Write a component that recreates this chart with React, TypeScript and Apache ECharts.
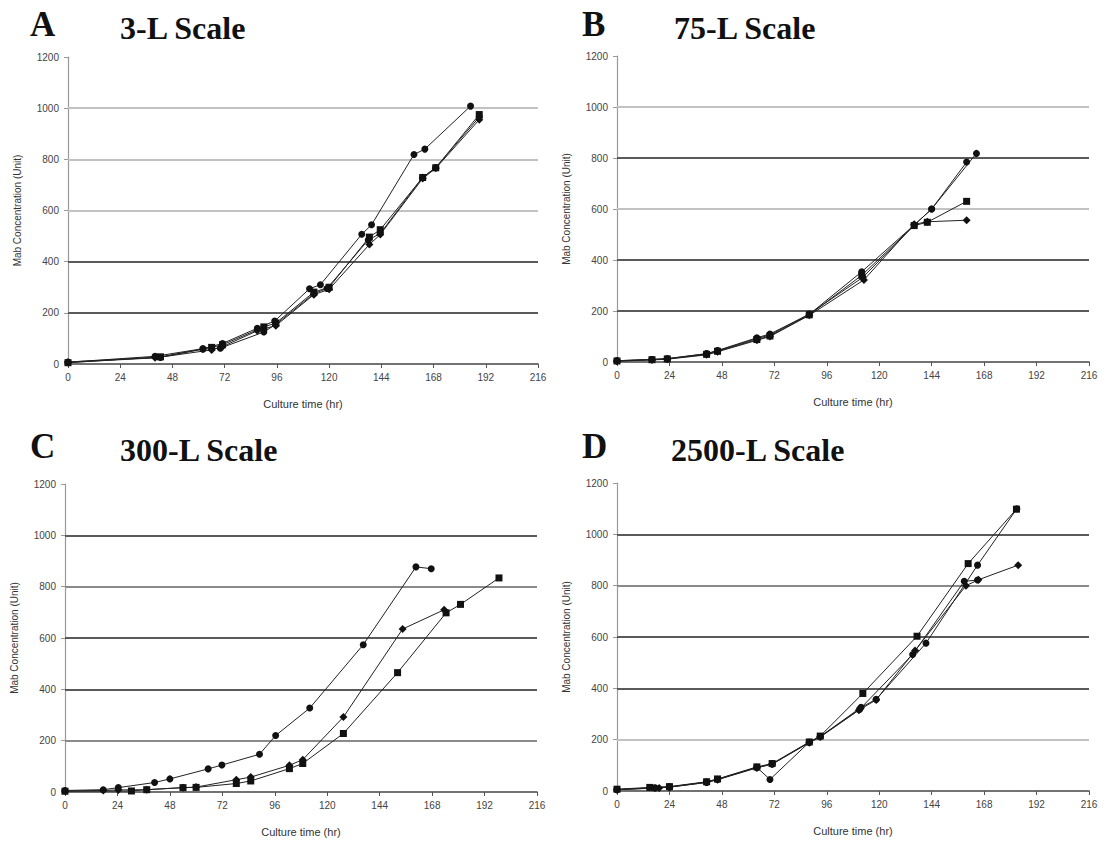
import React, { useEffect, useRef } from "react";
import * as echarts from "echarts";

// ---------- data: [culture time (hr), Mab concentration (Unit)] ----------
const a1: [number, number][] = [[0, 7], [40, 30], [62, 60], [71, 80], [87, 140], [95, 168], [111, 294], [116, 310], [135, 507], [139.5, 544], [159, 819], [164, 840], [185, 1008]];
const a2: [number, number][] = [[0, 5], [42.5, 28], [66, 65], [71, 75], [90, 145], [95.5, 160], [113, 281], [120, 300], [138.5, 496], [143.5, 525], [163, 729], [169, 767], [189, 975]];
const a3: [number, number][] = [[0, 6], [40, 24], [66, 55], [71, 68], [87, 130], [95.5, 150], [113, 271], [120, 292], [138.5, 467], [143.5, 506], [163, 725], [169, 765], [189, 955]];
const a4: [number, number][] = [[0, 8], [42.5, 26], [62, 58], [70, 62], [90, 125], [95.5, 155], [113, 275], [119, 295], [138, 485], [143.5, 510], [163, 730], [169, 768], [189, 965]];

const b1: [number, number][] = [[0, 5], [16, 10], [23, 13], [41, 33], [46, 45], [64, 95], [70, 110], [88, 187], [112, 354], [136, 537], [144, 600], [164.5, 818]];
const b2: [number, number][] = [[0, 4], [16, 9], [23, 12], [41, 30], [46, 42], [64, 88], [70, 102], [88, 185], [112, 340], [136, 535], [142, 548], [160, 630]];
const b3: [number, number][] = [[0, 3], [16, 8], [23, 11], [41, 28], [46, 40], [64, 85], [70, 100], [88, 183], [113, 322], [136, 540], [142, 550], [160, 556]];
const b4: [number, number][] = [[0, 5], [16, 10], [23, 13], [41, 32], [46, 44], [64, 92], [70, 106], [88, 188], [112.5, 332], [136, 537], [144, 600], [160, 784]];

const c1: [number, number][] = [[0, 6], [17.5, 9], [24.4, 17], [41, 37], [48, 51], [65.5, 90], [71.8, 105], [89, 147], [96.4, 220], [112, 327], [136.5, 574], [160.6, 877], [167.6, 870]];
const c2: [number, number][] = [[0, 4], [17.5, 6], [24.4, 8], [37.4, 9], [54, 17], [60, 19], [78.4, 48], [85, 58], [102.7, 104], [108.8, 126], [127.4, 292], [154.5, 635], [173.5, 710]];
const c3: [number, number][] = [[0, 3], [30.4, 4], [37.4, 9], [54, 17], [60, 18], [78.4, 33], [85, 43], [102.7, 91], [108.8, 111], [127.4, 228], [152.2, 465], [174.4, 698], [181, 731], [198.6, 834]];

const d1: [number, number][] = [[0, 7], [15, 14], [24, 17], [41, 36], [46, 47], [64, 94], [71, 107], [88, 191], [93, 214], [112.5, 380], [137.3, 603], [160.7, 886], [182.8, 1098]];
const d2: [number, number][] = [[0, 6], [17.4, 13], [24, 16], [41, 35], [46, 45], [64, 92], [70, 45], [88, 190], [93, 212], [111.7, 326], [118.6, 357], [141.4, 576], [165, 880], [183, 1100]];
const d3: [number, number][] = [[0, 5], [19.3, 12], [24, 15], [41, 34], [46, 44], [64, 90], [71, 105], [88, 188], [93, 210], [110.7, 315], [118.6, 355], [136.4, 547], [159.7, 800], [165.4, 823], [183.6, 880]];
const d4: [number, number][] = [[0, 5], [17.4, 12], [24, 15], [41, 33], [46, 45], [64, 92], [71, 104], [88, 190], [93, 212], [111, 318], [135.3, 532], [158.9, 817], [165, 822]];

const panelLetters = ["A", "B", "C", "D"];
const panelTitles = ["3-L Scale", "75-L Scale", "300-L Scale", "2500-L Scale"];
const gridLevels = [200, 400, 600, 800, 1000];
const yTickMax = 1200;
const xTickMax = 216;

const panelSeries = [[a1, a2, a3, a4], [b1, b2, b3, b4], [c1, c2, c3], [d1, d2, d3, d4]];
const panelMarkers = [
  ["circle", "rect", "diamond", "circle"],
  ["circle", "rect", "diamond", "circle"],
  ["circle", "diamond", "rect"],
  ["rect", "circle", "diamond", "circle"],
];

const DARK = "#5a5a5a";
const MID = "#8a8a8a";
const LIGHT = "#c2c2c2";
const gridColors = [
  [DARK, DARK, LIGHT, LIGHT, LIGHT],
  [DARK, DARK, LIGHT, DARK, LIGHT],
  [MID, DARK, DARK, MID, DARK],
  [LIGHT, DARK, DARK, MID, DARK],
];

// layout (pixels)
const grids = [
  { left: 68, top: 57, width: 470, height: 307 },
  { left: 617, top: 56, width: 472, height: 306 },
  { left: 65, top: 484, width: 472, height: 308 },
  { left: 617, top: 483, width: 472, height: 308 },
];
const letterPos = [[30, 7], [582, 7], [30, 429], [582, 429]];
const titlePos = [[120, 12], [674, 12], [120, 434], [671, 434]];

export default function App() {
  const ref = useRef<HTMLDivElement>(null);
  useEffect(() => {
    if (!ref.current) return;
    const chart = echarts.init(ref.current, undefined, { renderer: "svg" });
    const sans = "'Liberation Sans', Arial, sans-serif";
    const serif = "'Liberation Serif', 'Times New Roman', serif";

    const xAxis = grids.map((_, i) => ({
      type: "value",
      gridIndex: i,
      min: 0,
      max: xTickMax,
      interval: 24,
      name: "Culture time (hr)",
      nameLocation: "middle",
      nameGap: 34,
      nameTextStyle: { fontFamily: sans, fontSize: 11, color: "#333" },
      axisLine: { show: true, lineStyle: { color: "#444", width: 1.5 } },
      axisTick: { show: true, length: 4, lineStyle: { color: "#555" } },
      axisLabel: { fontFamily: sans, fontSize: 10, color: "#444", margin: 8, formatter: (v: number) => String(v) },
      splitLine: { show: false },
    }));
    const yAxis = grids.map((_, i) => ({
      type: "value",
      gridIndex: i,
      min: 0,
      max: yTickMax,
      interval: 200,
      name: "Mab Concentration (Unit)",
      nameLocation: "middle",
      nameGap: 46,
      nameTextStyle: { fontFamily: sans, fontSize: 10, color: "#333" },
      axisLine: { show: true, lineStyle: { color: "#999", width: 1.2 } },
      axisTick: { show: true, length: 4, lineStyle: { color: "#999" } },
      axisLabel: { fontFamily: sans, fontSize: 10, color: "#444", margin: 9, formatter: (v: number) => String(v) },
      splitLine: { show: false },
    }));

    const series: any[] = [];
    panelSeries.forEach((list, p) => {
      list.forEach((data, s) => {
        const sym = panelMarkers[p][s];
        series.push({
          type: "line",
          xAxisIndex: p,
          yAxisIndex: p,
          data,
          symbol: sym,
          symbolSize: sym === "diamond" ? 8 : 7,
          showAllSymbol: true,
          itemStyle: { color: "#111" },
          lineStyle: { color: "#222", width: 1 },
          z: 3,
          markLine:
            s === 0
              ? {
                  silent: true,
                  symbol: ["none", "none"],
                  label: { show: false },
                  z: 1,
                  data: gridLevels.map((v, k) => ({
                    yAxis: v,
                    lineStyle: { color: gridColors[p][k], width: 1.8, type: "solid" },
                  })),
                }
              : undefined,
        });
      });
    });

    const graphic: any[] = [];
    panelLetters.forEach((l, i) => {
      graphic.push({
        type: "text",
        left: letterPos[i][0],
        top: letterPos[i][1],
        style: { text: l, font: `bold 35px ${serif}`, fill: "#111" },
      });
      graphic.push({
        type: "text",
        left: titlePos[i][0],
        top: titlePos[i][1],
        style: { text: panelTitles[i], font: `bold 32px ${serif}`, fill: "#111" },
      });
    });

    chart.setOption({
      animation: false,
      backgroundColor: "#fff",
      grid: grids.map((g) => ({ ...g, containLabel: false })),
      xAxis,
      yAxis,
      series,
      graphic,
    });
    return () => chart.dispose();
  }, []);
  return (
    <div
      ref={ref}
      style={{ position: "fixed", left: 0, top: 0, width: 1106, height: 844, background: "#fff" }}
    />
  );
}
